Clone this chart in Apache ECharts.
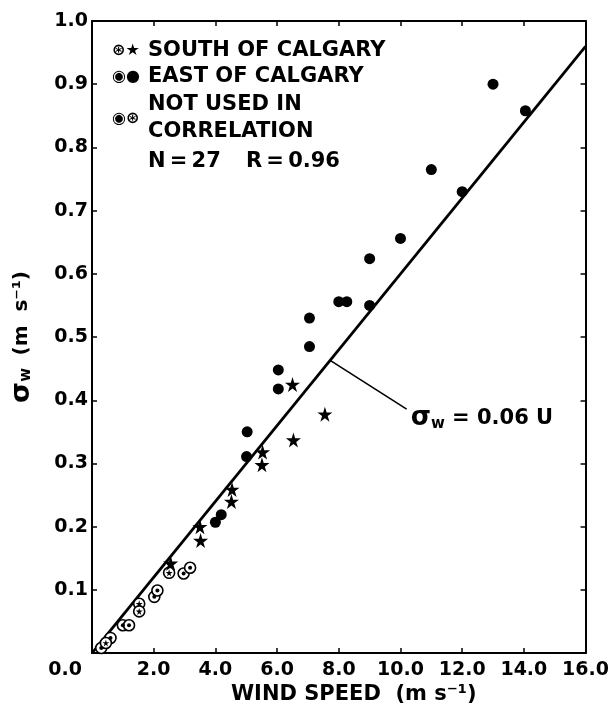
<!DOCTYPE html>
<html>
<head>
<meta charset="utf-8">
<title>Sigma w vs wind speed</title>
<script src="https://cdn.jsdelivr.net/npm/echarts@6/dist/echarts.min.js"></script>
<style>
    html, body { margin: 0; padding: 0; background: #fff; }
    #scatter_sigma { width: 612px; height: 710px; }
</style>
</head>
<body>
<div id="scatter_sigma"></div>
<script>

// Chart data
// ------------------------------

// East of Calgary (filled dots) - [wind speed, sigma w]
var eastPoints = [
    [4.0, 0.207], [4.19, 0.219], [5.01, 0.311], [5.03, 0.350],
    [6.04, 0.418], [6.04, 0.448], [7.05, 0.485], [7.05, 0.530],
    [8.0, 0.556], [8.26, 0.556], [9.0, 0.550], [9.0, 0.624],
    [10.0, 0.656], [11.0, 0.765], [12.0, 0.730], [13.0, 0.900],
    [14.05, 0.858]
];

// South of Calgary (filled stars)
var southPoints = [
    [2.55, 0.142], [3.50, 0.200], [3.52, 0.178], [4.54, 0.259],
    [4.52, 0.240], [5.53, 0.318], [5.51, 0.298], [6.50, 0.425],
    [6.53, 0.337], [7.55, 0.378]
];

// Not used in correlation
var notUsedEast = [
    [2.97, 0.126], [3.18, 0.135], [2.02, 0.089], [2.12, 0.099],
    [1.00, 0.044], [1.20, 0.044], [0.60, 0.024], [0.30, 0.008]
];
var notUsedSouth = [
    [2.50, 0.127], [1.53, 0.078], [1.53, 0.066], [0.45, 0.016]
];

// Fitted line sigma w = 0.06 U and its callout
var fitLine = [[0, 0], [16, 0.96]];
var calloutLine = [[7.72, 0.463], [10.2, 0.386]];

// Axis ranges / tick steps
var xRange = [0, 16], xStep = 2;
var yRange = [0, 1], yStep = 0.1;

// Legend rows
var legendRows = ['SOUTH OF CALGARY', 'EAST OF CALGARY', 'NOT USED IN', 'CORRELATION'];
var statsText = ['N\u2009=\u200927', 'R\u2009=\u20090.96'];


// Setup module
// ------------------------------

var EchartsSigmaScatter = function() {

    var starPath = 'path://M50,0 L61,35 L98,35 L68,57 L79,91 L50,70 L21,91 L32,57 L2,35 L39,35 Z';
    var font = '"DejaVu Sans", sans-serif';

    var _sigmaScatter = function() {
        if (typeof echarts == 'undefined') {
            console.warn('Warning - echarts.min.js is not loaded.');
            return;
        }

        var scatter_element = document.getElementById('scatter_sigma');
        if (!scatter_element) return;

        var scatter_chart = echarts.init(scatter_element, null, { renderer: 'canvas' });

        var tickFmt = function(v) { return v.toFixed(1); };

        // Shared axis pieces
        var axisLine = { show: true, onZero: false, lineStyle: { color: '#000', width: 2 } };
        var axisTick = { show: true, inside: true, length: 5, lineStyle: { color: '#000', width: 1.5 } };

        // Legend text helper
        var legendText = function(txt, x, y, size) {
            return {
                type: 'text', x: x, y: y,
                style: { text: txt, fontSize: size, fontFamily: font, fontWeight: 'bold', fill: '#000', verticalAlign: 'middle' }
            };
        };

        // Solid black marks (scatter defaults to 0.8 opacity)
        var solid = { color: '#000', opacity: 1 };

        scatter_chart.setOption({
            animation: false,
            backgroundColor: '#fff',

            textStyle: {
                fontFamily: font,
                fontWeight: 'bold',
                color: '#000'
            },

            grid: {
                left: 84,
                right: 20,
                top: 21,
                bottom: 55,
                containLabel: false
            },

            xAxis: [{
                type: 'value',
                min: xRange[0],
                max: xRange[1],
                interval: xStep,
                name: 'WIND SPEED  (m s\u207B\u00B9)',
                nameLocation: 'middle',
                nameGap: 30,
                nameTextStyle: { fontSize: 21, fontWeight: 'bold', color: '#000', padding: [0, 0, 0, 30] },
                axisLine: axisLine,
                axisTick: axisTick,
                axisLabel: {
                    showMinLabel: false,
                    margin: 7,
                    fontSize: 19,
                    fontWeight: 'bold',
                    color: '#000',
                    formatter: tickFmt
                },
                splitLine: { show: false }
            }, {
                type: 'value',
                position: 'top',
                min: xRange[0],
                max: xRange[1],
                interval: xStep,
                axisLine: axisLine,
                axisTick: axisTick,
                axisLabel: { show: false },
                splitLine: { show: false }
            }],

            yAxis: [{
                type: 'value',
                min: yRange[0],
                max: yRange[1],
                interval: yStep,
                name: '{s|\u03C3}{w|w}   {u|(m  s\u207B\u00B9)}',
                nameLocation: 'middle',
                nameRotate: 90,
                nameGap: 57,
                nameTextStyle: {
                    rich: {
                        s: { fontSize: 27, fontFamily: font, fontWeight: 'bold', color: '#000' },
                        w: { fontSize: 15, fontFamily: font, fontWeight: 'bold', color: '#000', padding: [10, 0, 0, 0] },
                        u: { fontSize: 20, fontFamily: font, fontWeight: 'bold', color: '#000' }
                    }
                },
                axisLine: axisLine,
                axisTick: axisTick,
                axisLabel: {
                    showMinLabel: false,
                    margin: 4,
                    fontSize: 19,
                    fontWeight: 'bold',
                    color: '#000',
                    formatter: tickFmt
                },
                splitLine: { show: false }
            }, {
                type: 'value',
                position: 'right',
                min: yRange[0],
                max: yRange[1],
                interval: yStep,
                axisLine: axisLine,
                axisTick: axisTick,
                axisLabel: { show: false },
                splitLine: { show: false }
            }],

            // Legend block and the shared corner label
            graphic: [
                { type: 'text', x: 82, y: 670, style: { text: '0.0', fontSize: 19, fontFamily: font, fontWeight: 'bold', fill: '#000', align: 'right', verticalAlign: 'middle' } },

                legendText('\u229B\u2605', 112, 51, 16),
                legendText(legendRows[0], 148, 51, 21),

                legendText('\u25C9\u25CF', 112, 77, 16),
                legendText(legendRows[1], 148, 77, 21),

                legendText('\u25C9\u229B', 112, 119, 16),
                legendText(legendRows[2], 148, 105, 21),
                legendText(legendRows[3], 148, 132, 21),

                legendText(statsText[0], 148, 162, 21),
                legendText(statsText[1], 246, 162, 21)
            ],

            series: [
                // Fitted line
                {
                    name: 'fit',
                    type: 'line',
                    data: fitLine,
                    symbol: 'none',
                    silent: true,
                    lineStyle: { color: '#000', width: 2.8 },
                    z: 2
                },
                // Callout
                {
                    name: 'callout',
                    type: 'line',
                    data: calloutLine,
                    symbol: 'none',
                    silent: true,
                    lineStyle: { color: '#000', width: 1.6 },
                    endLabel: {
                        show: true,
                        distance: 4,
                        offset: [0, 9],
                        formatter: '{s|\u03C3}{w|w}{t| = 0.06 U}',
                        rich: {
                            s: { fontSize: 26, fontFamily: font, fontWeight: 'bold', color: '#000' },
                            w: { fontSize: 15, fontFamily: font, fontWeight: 'bold', color: '#000', padding: [12, 0, 0, 0] },
                            t: { fontSize: 21, fontFamily: font, fontWeight: 'bold', color: '#000' }
                        }
                    },
                    z: 2
                },
                // Not used - rings
                {
                    name: 'notUsedEastRing',
                    type: 'scatter',
                    data: notUsedEast,
                    symbol: 'circle',
                    symbolSize: 11,
                    itemStyle: { color: '#fff', opacity: 1, borderColor: '#000', borderWidth: 1.6 },
                    z: 3
                },
                {
                    name: 'notUsedEastDot',
                    type: 'scatter',
                    data: notUsedEast,
                    symbol: 'circle',
                    symbolSize: 4,
                    itemStyle: solid,
                    z: 4
                },
                {
                    name: 'notUsedSouthRing',
                    type: 'scatter',
                    data: notUsedSouth,
                    symbol: 'circle',
                    symbolSize: 11,
                    itemStyle: { color: '#fff', opacity: 1, borderColor: '#000', borderWidth: 1.6 },
                    z: 3
                },
                {
                    name: 'notUsedSouthStar',
                    type: 'scatter',
                    data: notUsedSouth,
                    symbol: starPath,
                    symbolSize: 7,
                    itemStyle: solid,
                    z: 4
                },
                // East of Calgary
                {
                    name: 'EAST OF CALGARY',
                    type: 'scatter',
                    data: eastPoints,
                    symbol: 'circle',
                    symbolSize: 11,
                    itemStyle: solid,
                    z: 5
                },
                // South of Calgary
                {
                    name: 'SOUTH OF CALGARY',
                    type: 'scatter',
                    data: southPoints,
                    symbol: starPath,
                    symbolSize: 15,
                    itemStyle: solid,
                    z: 5
                }
            ]
        });

        // Resize
        var resizeCharts;
        window.addEventListener('resize', function() {
            clearTimeout(resizeCharts);
            resizeCharts = setTimeout(function() {
                scatter_chart.resize();
            }, 200);
        });
    };

    return {
        init: function() {
            _sigmaScatter();
        }
    };
}();

document.addEventListener('DOMContentLoaded', function() {
    EchartsSigmaScatter.init();
});
</script>
</body>
</html>
